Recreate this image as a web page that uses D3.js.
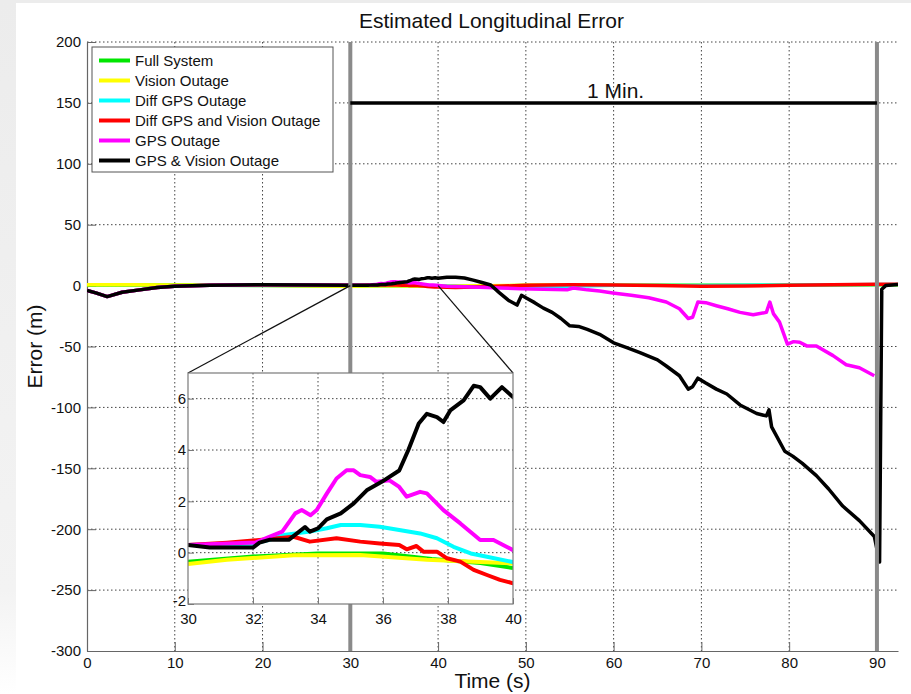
<!DOCTYPE html>
<html>
<head>
<meta charset="utf-8">
<script src="https://cdn.jsdelivr.net/npm/d3@7"></script>
<style>
  html, body { margin: 0; padding: 0; background: #ffffff; }
  svg { display: block; font-family: "Liberation Sans", Arial, sans-serif; }
</style>
</head>
<body>
<svg id="chart" width="911" height="694"></svg>
<script>
// ---- Data: time (s) vs. longitudinal error (m) for each configuration ----
const seriesNames = [
  "Full System",
  "Vision Outage",
  "Diff GPS Outage",
  "Diff GPS and Vision Outage",
  "GPS Outage",
  "GPS & Vision Outage"
];
const seriesColors = ["#00e600", "#ffff00", "#00ffff", "#ff0000", "#ff00ff", "#000000"];

const fullSystem = [[0,0.5],[10,0.4],[20,0.1],[30,-0.35],[32,-0.15],[34,-0.03],[36,-0.03],[37.5,-0.25],[39,-0.4],[40,-0.6],[45,-0.5],[50,0],[60,0.4],[70,0.3],[80,0.4],[92.4,0.6]];
const visionOutage = [[0,0.8],[5,0.7],[10,0.5],[20,0.2],[30,-0.44],[31.2,-0.28],[33.25,-0.1],[35.3,-0.09],[37.35,-0.28],[40,-0.42],[45,-0.2],[50,0.3],[60,0.6],[70,0.5],[80,0.6],[92.4,0.8]];
const diffGpsOutage = [[0,-4],[1,-6],[2.3,-9],[4,-5.5],[6,-3.5],[8,-1.5],[10,-0.5],[14,0.3],[20,0.8],[26,0.5],[30,0.3],[32,0.35],[32.5,0.5],[33,0.7],[33.75,0.82],[34.27,0.95],[34.7,1.08],[35.3,1.08],[35.9,1.01],[36.5,0.88],[37.14,0.75],[37.66,0.56],[38.17,0.23],[38.7,-0.03],[39.2,-0.16],[40,-0.37],[42,-0.8],[45,-1.2],[48,-1.5],[52,-1],[56,-0.3],[60,0.2],[70,0.3],[80,0.5],[92.4,1]];
const diffGpsVisionOutage = [[0,-4],[1,-6],[2.3,-9],[4,-5.5],[6,-3.5],[8,-1.5],[10,-0.5],[14,0.3],[20,0.8],[26,0.5],[30,0.3],[31.2,0.39],[32.2,0.49],[33.25,0.62],[33.75,0.43],[34.57,0.56],[35.3,0.43],[35.9,0.36],[36.5,0.3],[36.73,0.13],[37.03,0.26],[37.24,0.04],[37.66,0.04],[37.97,-0.22],[38.38,-0.35],[38.79,-0.67],[39.2,-0.87],[39.6,-1.06],[40,-1.19],[42,-1.5],[45,-1],[50,0.3],[55,0.6],[60,0.5],[65,0],[70,-0.6],[75,-0.4],[80,0.2],[85,0.8],[90,1.2],[92.4,1.2]];
const gpsOutage = [[0,-4],[1,-6],[2.3,-9],[4,-5.5],[6,-3.5],[8,-1.5],[10,-0.5],[14,0.3],[20,0.8],[26,0.5],[30,0.3],[32.1,0.4],[32.5,0.62],[32.9,0.82],[33.3,1.53],[33.5,1.66],[33.77,1.46],[33.96,1.66],[34.27,2.3],[34.57,2.89],[34.88,3.21],[35.1,3.21],[35.3,3.02],[35.6,2.95],[35.8,2.76],[36.2,2.82],[36.5,2.56],[36.73,2.18],[37.14,2.37],[37.35,2.31],[37.86,1.66],[38.38,1.14],[38.99,0.49],[39.4,0.49],[39.8,0.23],[40,0.1],[41,-0.5],[43,-1],[45.5,-1.5],[47,-2],[49.3,-2.5],[52,-3],[54.7,-3.5],[55.4,-2],[57,-3.5],[58.4,-4.5],[59.9,-6],[62,-8],[64,-10],[66,-13.5],[67.5,-19],[68.5,-27],[69,-26],[69.6,-13.5],[70.5,-14],[71.7,-16.5],[73,-19],[74.4,-22],[75.9,-24],[77.4,-22],[77.8,-13.5],[78.2,-23],[78.9,-30],[79.8,-48],[80.5,-46],[81.2,-46.5],[82,-49.5],[83.1,-49.5],[85,-57.5],[86.5,-65],[88,-67.5],[89.7,-74]];
const gpsVisionOutage = [[0,-4],[1,-6],[2.3,-9],[4,-5.5],[6,-3.5],[8,-1.5],[10,-0.5],[14,0.3],[20,0.8],[26,0.5],[30,0.3],[30.67,0.2],[32,0.2],[32.2,0.39],[32.5,0.5],[33.1,0.5],[33.6,1.0],[33.75,0.82],[34,0.95],[34.27,1.3],[34.7,1.53],[35.1,1.92],[35.5,2.43],[35.96,2.76],[36.5,3.2],[36.78,4.0],[37.1,5.03],[37.35,5.41],[37.66,5.28],[37.86,5.09],[38.07,5.54],[38.48,5.93],[38.79,6.5],[38.99,6.45],[39.3,6.0],[39.66,6.45],[40,6.06],[41,6.8],[42,6.9],[43,6.2],[44,4.5],[45,2.5],[46,0.5],[47,-6],[48,-12],[49,-16],[49.5,-8],[50,-10],[51,-14],[52,-18.5],[53,-22],[54,-27],[55,-33],[56,-33.5],[57,-36],[58.4,-40],[60,-47],[61.5,-51],[63,-55],[65,-61],[66,-66],[67.5,-74],[68.5,-85],[69,-83],[69.6,-76],[70.5,-80],[71.7,-85],[72.9,-89],[74.4,-98],[76.3,-105],[77.4,-107],[77.7,-102],[78,-116],[79.5,-136],[80.4,-140],[81.5,-146],[83.1,-156],[84.5,-167],[86.1,-181],[88,-193],[89.7,-206],[90.3,-227],[90.55,-3],[91,0],[92.4,1]];

const seriesData = [fullSystem, visionOutage, diffGpsOutage, diffGpsVisionOutage, gpsOutage, gpsVisionOutage];

// Axis ranges and ticks
const xDomain = [0, 92.4];
const yDomain = [-300, 200];
const xTicks = [0, 10, 20, 30, 40, 50, 60, 70, 80, 90];
const yTicks = [-300, -250, -200, -150, -100, -50, 0, 50, 100, 150, 200];

// Zoomed window (30–40 s)
const zoomXDomain = [30, 40];
const zoomYDomain = [-2, 7];
const zoomXTicks = [30, 32, 34, 36, 38, 40];
const zoomYTicks = [-2, 0, 2, 4, 6];

// One-minute span markers
const spanStart = 30, spanEnd = 90, spanLevel = 150;
const spanLabel = "1 Min.";

// ---- Drawing ----
const svg = d3.select("#chart");
const W = 911, H = 694;
const plain = d => String(d);   // hyphen-minus labels

// Figure background with a soft grey edge on the left/top
const defs = svg.append("defs");
const edgeGrad = defs.append("linearGradient").attr("id", "edgeGrad")
  .attr("x1", 0).attr("y1", 0).attr("x2", 0).attr("y2", 1);
edgeGrad.append("stop").attr("offset", "0%").attr("stop-color", "#ececec");
edgeGrad.append("stop").attr("offset", "85%").attr("stop-color", "#f3f3f3");
edgeGrad.append("stop").attr("offset", "100%").attr("stop-color", "#ffffff");
svg.append("rect").attr("width", W).attr("height", H).attr("fill", "#ffffff");
svg.append("rect").attr("x", 0).attr("y", 0).attr("width", 16).attr("height", H).attr("fill", "url(#edgeGrad)");
svg.append("rect").attr("x", 0).attr("y", 0).attr("width", W).attr("height", 3).attr("fill", "#ececec");

const m = { left: 87, right: 898, top: 42, bottom: 651 };
const x = d3.scaleLinear().domain(xDomain).range([m.left, m.right]);
const y = d3.scaleLinear().domain(yDomain).range([m.bottom, m.top]);

const gridStyle = sel => sel.attr("stroke", "#444").attr("stroke-width", 1).attr("stroke-dasharray", "1.5,2.5");

// Grid
const grid = svg.append("g");
grid.selectAll("line.gx").data(xTicks.filter(d => d > 0)).join("line")
  .attr("x1", d => x(d)).attr("x2", d => x(d)).attr("y1", m.top).attr("y2", m.bottom).call(gridStyle);
grid.selectAll("line.gy").data(yTicks.filter(d => d > yDomain[0])).join("line")
  .attr("x1", m.left).attr("x2", m.right).attr("y1", d => y(d)).attr("y2", d => y(d)).call(gridStyle);

// Axes (left and bottom only)
const axisColor = "#666";
const xAxis = svg.append("g").attr("transform", `translate(0,${m.bottom})`)
  .call(d3.axisBottom(x).tickValues(xTicks).tickFormat(plain).tickSizeInner(-9).tickSizeOuter(0).tickPadding(6));
const yAxis = svg.append("g").attr("transform", `translate(${m.left},0)`)
  .call(d3.axisLeft(y).tickValues(yTicks).tickFormat(plain).tickSizeInner(-9).tickSizeOuter(0).tickPadding(6));
[xAxis, yAxis].forEach(a => {
  a.select(".domain").attr("stroke", axisColor).attr("stroke-width", 1.2);
  a.selectAll(".tick line").attr("stroke", axisColor);
  a.selectAll(".tick text").attr("font-size", 15).attr("fill", "#111").attr("font-family", "Liberation Sans, Arial, sans-serif");
});
yAxis.selectAll(".tick text").attr("x", -6);

// Data lines
svg.append("clipPath").attr("id", "mainClip").append("rect")
  .attr("x", m.left).attr("y", m.top - 2).attr("width", m.right - m.left).attr("height", m.bottom - m.top + 2);
const line = d3.line().x(d => x(d[0])).y(d => y(d[1]));
const lines = svg.append("g").attr("clip-path", "url(#mainClip)");
seriesData.forEach((s, i) => {
  lines.append("path").attr("d", line(s)).attr("fill", "none")
    .attr("stroke", seriesColors[i]).attr("stroke-width", 3.5).attr("stroke-linejoin", "round");
});

// Span markers
svg.selectAll("line.span").data([spanStart, spanEnd]).join("line")
  .attr("x1", d => x(d)).attr("x2", d => x(d)).attr("y1", m.top).attr("y2", m.bottom)
  .attr("stroke", "#8a8a8a").attr("stroke-width", 4);
svg.append("line").attr("x1", x(spanStart)).attr("x2", x(spanEnd))
  .attr("y1", y(spanLevel)).attr("y2", y(spanLevel)).attr("stroke", "#000").attr("stroke-width", 3.5);
svg.append("text").attr("x", (x(spanStart) + x(spanEnd)) / 2 + 2).attr("y", y(spanLevel) - 5)
  .attr("text-anchor", "middle").attr("font-size", 21).attr("fill", "#111").text(spanLabel);

// Zoomed inset
const z = { left: 188, right: 513, top: 373, bottom: 604 };
const zx = d3.scaleLinear().domain(zoomXDomain).range([z.left, z.right]);
const zy = d3.scaleLinear().domain(zoomYDomain).range([z.bottom, z.top]);

// Connectors from the zoomed window on the main axes to the inset
const connectors = [
  [[x(zoomXDomain[0]), y(0)], [z.left, z.top]],
  [[x(zoomXDomain[1]), y(0)], [z.right, z.top]]
];
svg.selectAll("line.conn").data(connectors).join("line")
  .attr("x1", d => d[0][0]).attr("y1", d => d[0][1]).attr("x2", d => d[1][0]).attr("y2", d => d[1][1])
  .attr("stroke", "#111").attr("stroke-width", 1.2);

const inset = svg.append("g");
inset.append("rect").attr("x", z.left).attr("y", z.top).attr("width", z.right - z.left).attr("height", z.bottom - z.top)
  .attr("fill", "#ffffff");
inset.selectAll("line.zgx").data(zoomXTicks.filter(d => d > zoomXDomain[0] && d < zoomXDomain[1])).join("line")
  .attr("x1", d => zx(d)).attr("x2", d => zx(d)).attr("y1", z.top).attr("y2", z.bottom).call(gridStyle);
inset.selectAll("line.zgy").data(zoomYTicks.filter(d => d > zoomYDomain[0])).join("line")
  .attr("x1", z.left).attr("x2", z.right).attr("y1", d => zy(d)).attr("y2", d => zy(d)).call(gridStyle);

svg.append("clipPath").attr("id", "zoomClip").append("rect")
  .attr("x", z.left).attr("y", z.top).attr("width", z.right - z.left).attr("height", z.bottom - z.top);
const zline = d3.line().x(d => zx(d[0])).y(d => zy(d[1]));
const zlines = inset.append("g").attr("clip-path", "url(#zoomClip)");
seriesData.forEach((s, i) => {
  const part = s.filter(d => d[0] >= zoomXDomain[0] - 2 && d[0] <= zoomXDomain[1] + 2);
  zlines.append("path").attr("d", zline(part)).attr("fill", "none")
    .attr("stroke", seriesColors[i]).attr("stroke-width", 4).attr("stroke-linejoin", "round");
});

inset.append("rect").attr("x", z.left).attr("y", z.top).attr("width", z.right - z.left).attr("height", z.bottom - z.top)
  .attr("fill", "none").attr("stroke", "#7a7a7a").attr("stroke-width", 1.2);

const zxAxis = inset.append("g").attr("transform", `translate(0,${z.bottom})`)
  .call(d3.axisBottom(zx).tickValues(zoomXTicks).tickFormat(plain).tickSizeInner(-6).tickSizeOuter(0).tickPadding(9));
const zyAxis = inset.append("g").attr("transform", `translate(${z.left},0)`)
  .call(d3.axisLeft(zy).tickValues(zoomYTicks).tickFormat(plain).tickSizeInner(-6).tickSizeOuter(0).tickPadding(3));
[zxAxis, zyAxis].forEach(a => {
  a.select(".domain").remove();
  a.selectAll(".tick line").attr("stroke", "#7a7a7a");
  a.selectAll(".tick text").attr("font-size", 15).attr("fill", "#111").attr("font-family", "Liberation Sans, Arial, sans-serif");
});
zyAxis.selectAll(".tick text").attr("x", -2);
// lift the lowest inset label slightly so it clears the "30" below it
zyAxis.selectAll(".tick text").filter(d => d === zoomYDomain[0]).attr("dy", "0.1em");

// Legend
const lg = svg.append("g");
lg.append("rect").attr("x", 92).attr("y", 47).attr("width", 241).attr("height", 125)
  .attr("fill", "#fff").attr("stroke", "#555").attr("stroke-width", 1);
seriesNames.forEach((name, i) => {
  const cy = 60.5 + i * 20;
  lg.append("line").attr("x1", 99).attr("x2", 130).attr("y1", cy).attr("y2", cy)
    .attr("stroke", seriesColors[i]).attr("stroke-width", 4);
  lg.append("text").attr("x", 135).attr("y", cy).attr("dy", "0.35em")
    .attr("font-size", 15).attr("fill", "#111").text(name);
});

// Titles
svg.append("text").attr("x", (m.left + m.right) / 2 - 1).attr("y", 28).attr("text-anchor", "middle")
  .attr("font-size", 21).attr("fill", "#111").text("Estimated Longitudinal Error");
svg.append("text").attr("x", (m.left + m.right) / 2).attr("y", 688).attr("text-anchor", "middle")
  .attr("font-size", 21).attr("fill", "#111").text("Time (s)");
svg.append("text").attr("transform", `translate(42,${(m.top + m.bottom) / 2}) rotate(-90)`)
  .attr("text-anchor", "middle").attr("font-size", 21).attr("fill", "#111").text("Error (m)");
</script>
</body>
</html>
